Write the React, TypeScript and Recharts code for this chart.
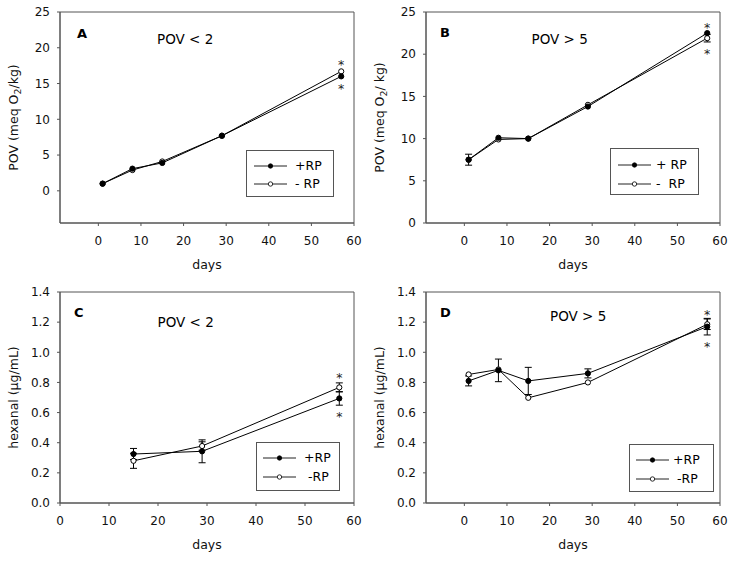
import React from "react";
import {
  LineChart,
  Line,
  XAxis,
  YAxis,
  ErrorBar,
  ReferenceArea,
  ReferenceDot,
  Legend,
} from "recharts";

// Dias de amostragem
const povDays = [1, 8, 15, 29, 57];
const hexLowDays = [15, 29, 57];
const hexHighDays = [1, 8, 15, 29, 57];

// A: POV < 2
const povLowPlus = [1.0, 3.1, 3.9, 7.7, 16.0];
const povLowMinus = [1.0, 2.9, 4.1, 7.7, 16.7];

// B: POV > 5
const povHighPlus = [7.5, 10.1, 10.0, 13.8, 22.5];
const povHighPlusErr = [0.65, 0, 0, 0, 0];
const povHighMinus = [7.5, 9.9, 10.0, 14.0, 21.9];
const povHighMinusErr = [0, 0, 0, 0, 0.45];

// C: hexanal, POV < 2
const hexLowPlus = [0.325, 0.343, 0.694];
const hexLowPlusErr = [0.037, 0.076, 0.045];
const hexLowMinus = [0.28, 0.378, 0.767];
const hexLowMinusErr = [0.05, 0.028, 0.03];

// D: hexanal, POV > 5
const hexHighPlus = [0.81, 0.88, 0.81, 0.86, 1.17];
const hexHighPlusErr = [0.033, 0.075, 0.09, 0.03, 0.055];
const hexHighMinus = [0.853, 0.886, 0.698, 0.8, 1.186];
const hexHighMinusErr = [0, 0, 0, 0, 0.035];

const povTicks = [0, 5, 10, 15, 20, 25];
const hexTicks = [0, 0.2, 0.4, 0.6, 0.8, 1.0, 1.2, 1.4];
const dayTicks = [0, 10, 20, 30, 40, 50, 60];

const FONT = "'DejaVu Sans', Verdana, sans-serif";
const AXIS = "#555";

const buildRows = (
  days: number[],
  plus: number[],
  plusErr: number[] | null,
  minus: number[],
  minusErr: number[] | null
) =>
  days.map((day, i) => ({
    day,
    plus: plus[i],
    plusErr: plusErr ? plusErr[i] : 0,
    minus: minus[i],
    minusErr: minusErr ? minusErr[i] : 0,
  }));

interface LegendCfg {
  left: number;
  top: number;
  width: number;
  height: number;
  rows: [number, number];
  line: [number, number];
  textX: number;
  labels: [string, string];
}

interface PanelProps {
  data: any[];
  xDomain: [number, number];
  yDomain: [number, number];
  yTicks: number[];
  yFormat: (v: number) => string;
  yLabel: React.ReactNode;
  letter: string;
  letterPos: [number, number];
  title: string;
  titlePos: [number, number];
  legend: LegendCfg;
  stars: { key: "plus" | "minus"; dy: number }[];
  errors: boolean;
}

const LegendBox = ({ cfg }: { cfg: LegendCfg }) => (
  <div
    style={{
      position: "relative",
      width: cfg.width,
      height: cfg.height,
      border: `1px solid ${AXIS}`,
      boxSizing: "border-box",
      background: "#fff",
      fontFamily: FONT,
      fontSize: 12.5,
      color: "#000",
    }}
  >
    {cfg.labels.map((label, i) => (
      <React.Fragment key={label}>
        <svg
          width={50}
          height={10}
          style={{ position: "absolute", left: 0, top: cfg.rows[i] - 5 }}
        >
          <line x1={cfg.line[0]} x2={cfg.line[1]} y1={5} y2={5} stroke="#222" strokeWidth={1} />
          <circle
            cx={(cfg.line[0] + cfg.line[1]) / 2}
            cy={5}
            r={2.2}
            fill={i === 0 ? "#000" : "#fff"}
            stroke="#000"
            strokeWidth={0.8}
          />
        </svg>
        <span
          style={{
            position: "absolute",
            left: cfg.textX,
            top: cfg.rows[i] - 8,
            lineHeight: "16px",
            whiteSpace: "pre",
          }}
        >
          {label}
        </span>
      </React.Fragment>
    ))}
  </div>
);

function Panel(p: PanelProps) {
  const last = p.data[p.data.length - 1];
  return (
    <LineChart
      width={366}
      height={280}
      data={p.data}
      margin={{ top: 12, right: 12, left: 0, bottom: 0 }}
    >
      <XAxis
        dataKey="day"
        type="number"
        domain={p.xDomain}
        ticks={dayTicks}
        allowDataOverflow
        height={57}
        stroke={AXIS}
        tickSize={3}
        tickMargin={10}
        tick={{ fill: "#111", fontSize: 12, fontFamily: FONT }}
        label={(props: any) => {
          const vb = props.viewBox;
          return (
            <text
              x={vb.x + vb.width / 2}
              y={vb.y + 46}
              textAnchor="middle"
              fontSize={12.5}
              fontFamily={FONT}
              fill="#111"
            >
              days
            </text>
          );
        }}
      />
      <YAxis
        type="number"
        domain={p.yDomain}
        ticks={p.yTicks}
        allowDataOverflow
        width={60}
        stroke={AXIS}
        tickSize={3}
        tickMargin={7}
        tickFormatter={p.yFormat}
        tick={{ fill: "#111", fontSize: 12, fontFamily: FONT }}
        label={(props: any) => {
          const vb = props.viewBox;
          const cx = vb.x + 18;
          const cy = vb.y + vb.height / 2;
          return (
            <text
              x={cx}
              y={cy}
              transform={`rotate(-90 ${cx} ${cy})`}
              textAnchor="middle"
              fontSize={12.5}
              fontFamily={FONT}
              fill="#111"
            >
              {p.yLabel}
            </text>
          );
        }}
      />
      <ReferenceArea
        x1={p.xDomain[0]}
        x2={p.xDomain[1]}
        y1={p.yDomain[0]}
        y2={p.yDomain[1]}
        fill="none"
        fillOpacity={0}
        stroke={AXIS}
        strokeWidth={1}
        ifOverflow="visible"
        label={(props: any) => {
          const vb = props.viewBox;
          return (
            <g fontFamily={FONT} fill="#000">
              <text x={vb.x + p.letterPos[0]} y={vb.y + p.letterPos[1]} fontSize={13} fontWeight="bold">
                {p.letter}
              </text>
              <text x={vb.x + p.titlePos[0]} y={vb.y + p.titlePos[1]} fontSize={13.5}>
                {p.title}
              </text>
            </g>
          );
        }}
      />
      <Line
        dataKey="minus"
        stroke="#000"
        strokeWidth={1}
        isAnimationActive={false}
        dot={{ r: 2.6, fill: "#fff", stroke: "#000", strokeWidth: 1 }}
      >
        {p.errors && <ErrorBar dataKey="minusErr" direction="y" width={3.5} stroke="#000" strokeWidth={1} />}
      </Line>
      <Line
        dataKey="plus"
        stroke="#000"
        strokeWidth={1}
        isAnimationActive={false}
        dot={{ r: 2.6, fill: "#000", stroke: "#000", strokeWidth: 1 }}
      >
        {p.errors && <ErrorBar dataKey="plusErr" direction="y" width={3.5} stroke="#000" strokeWidth={1} />}
      </Line>
      {p.stars.map((s) => (
        <ReferenceDot
          key={s.key}
          x={last.day}
          y={last[s.key]}
          r={0}
          fill="none"
          stroke="none"
          ifOverflow="visible"
          label={(props: any) => {
            const vb = props.viewBox;
            return (
              <text
                x={vb.x + vb.width / 2}
                y={vb.y + vb.height / 2 + s.dy}
                textAnchor="middle"
                fontSize={12.5}
                fontFamily={FONT}
                fill="#222"
              >
                *
              </text>
            );
          }}
        />
      ))}
      <Legend
        layout="vertical"
        align="center"
        verticalAlign="middle"
        content={() => <LegendBox cfg={p.legend} />}
        wrapperStyle={{ left: p.legend.left, top: p.legend.top, width: p.legend.width }}
      />
    </LineChart>
  );
}

const povLabelA = (
  <>
    POV (meq O<tspan dy={3} fontSize={9.5}>2</tspan>
    <tspan dy={-3}>/kg)</tspan>
  </>
);
const povLabelB = (
  <>
    POV (meq O<tspan dy={3} fontSize={9.5}>2</tspan>
    <tspan dy={-3}>/ kg)</tspan>
  </>
);
const hexLabel = "hexanal (\u00b5g/mL)";

export default function App() {
  const fmtInt = (v: number) => String(v);
  const fmtDec = (v: number) => v.toFixed(1);
  const cell = (left: number, top: number): React.CSSProperties => ({
    position: "absolute",
    left,
    top,
  });

  return (
    <div
      style={{
        position: "absolute",
        left: 0,
        top: 0,
        width: 733,
        height: 561,
        background: "#fff",
        overflow: "hidden",
      }}
    >
      <div style={cell(0, 0)}>
        <Panel
          data={buildRows(povDays, povLowPlus, null, povLowMinus, null)}
          xDomain={[-9, 60]}
          yDomain={[-4.5, 25]}
          yTicks={povTicks}
          yFormat={fmtInt}
          yLabel={povLabelA}
          letter="A"
          letterPos={[17, 26]}
          title="POV < 2"
          titlePos={[97, 31.5]}
          legend={{
            left: 246,
            top: 150,
            width: 88,
            height: 47,
            rows: [15, 33],
            line: [7, 40],
            textX: 48,
            labels: ["+RP", "- RP"],
          }}
          stars={[
            { key: "minus", dy: -2.5 },
            { key: "plus", dy: 17 },
          ]}
          errors={false}
        />
      </div>
      <div style={cell(366, 0)}>
        <Panel
          data={buildRows(povDays, povHighPlus, povHighPlusErr, povHighMinus, povHighMinusErr)}
          xDomain={[-9, 60]}
          yDomain={[0, 25]}
          yTicks={povTicks}
          yFormat={fmtInt}
          yLabel={povLabelB}
          letter="B"
          letterPos={[14, 25]}
          title="POV > 5"
          titlePos={[105.5, 31.5]}
          legend={{
            left: 244,
            top: 148,
            width: 89,
            height: 47,
            rows: [16, 34.5],
            line: [7, 40],
            textX: 45,
            labels: ["+ RP", "-  RP"],
          }}
          stars={[
            { key: "plus", dy: -1 },
            { key: "minus", dy: 19.5 },
          ]}
          errors
        />
      </div>
      <div style={cell(0, 280)}>
        <Panel
          data={buildRows(hexLowDays, hexLowPlus, hexLowPlusErr, hexLowMinus, hexLowMinusErr)}
          xDomain={[0, 60]}
          yDomain={[0, 1.4]}
          yTicks={hexTicks}
          yFormat={fmtDec}
          yLabel={hexLabel}
          letter="C"
          letterPos={[14, 25]}
          title="POV < 2"
          titlePos={[97.5, 35]}
          legend={{
            left: 256,
            top: 162,
            width: 84,
            height: 49,
            rows: [15, 34],
            line: [6, 39],
            textX: 47,
            labels: ["+RP", " -RP"],
          }}
          stars={[
            { key: "minus", dy: -5 },
            { key: "plus", dy: 22.5 },
          ]}
          errors
        />
      </div>
      <div style={cell(366, 280)}>
        <Panel
          data={buildRows(hexHighDays, hexHighPlus, hexHighPlusErr, hexHighMinus, hexHighMinusErr)}
          xDomain={[-9, 60]}
          yDomain={[0, 1.4]}
          yTicks={hexTicks}
          yFormat={fmtDec}
          yLabel={hexLabel}
          letter="D"
          letterPos={[14, 24.5]}
          title="POV > 5"
          titlePos={[124, 29]}
          legend={{
            left: 263,
            top: 164,
            width: 85,
            height: 48,
            rows: [15, 33.5],
            line: [6, 39],
            textX: 43,
            labels: ["+RP", " -RP"],
          }}
          stars={[
            { key: "minus", dy: -5.5 },
            { key: "plus", dy: 24 },
          ]}
          errors
        />
      </div>
    </div>
  );
}
